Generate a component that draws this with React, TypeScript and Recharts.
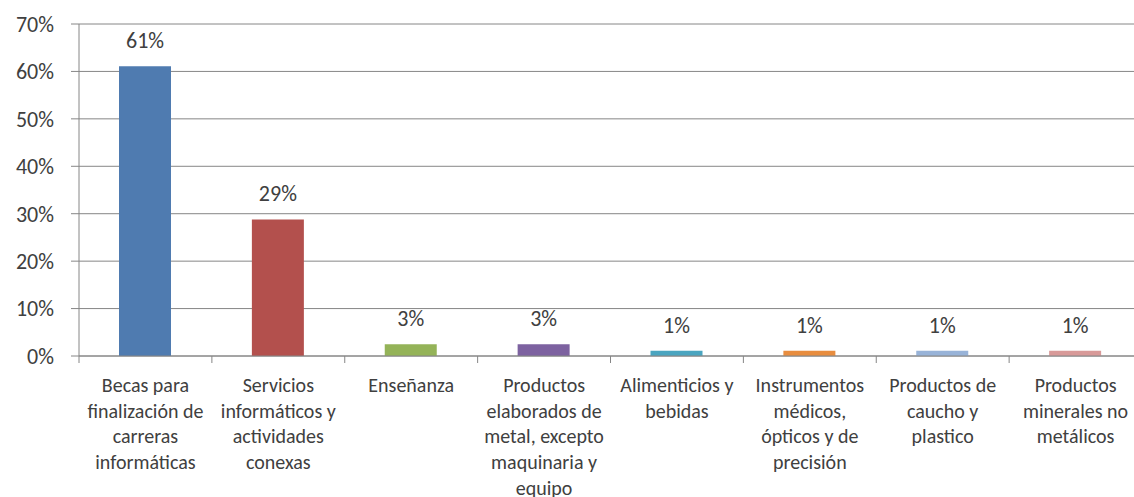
import { BarChart, Bar, XAxis, YAxis, CartesianGrid, Cell, LabelList } from 'recharts';

const categories = [
  'Becas para finalización de carreras informáticas',
  'Servicios informáticos y actividades conexas',
  'Enseñanza',
  'Productos elaborados de metal, excepto maquinaria y equipo',
  'Alimenticios y bebidas',
  'Instrumentos médicos, ópticos y de precisión',
  'Productos de caucho y plastico',
  'Productos minerales no metálicos',
];

const tickLabels = [
  ['Becas para', 'finalización de', 'carreras', 'informáticas'],
  ['Servicios', 'informáticos y', 'actividades', 'conexas'],
  ['Enseñanza'],
  ['Productos', 'elaborados de', 'metal, excepto', 'maquinaria y', 'equipo'],
  ['Alimenticios y', 'bebidas'],
  ['Instrumentos', 'médicos,', 'ópticos y de', 'precisión'],
  ['Productos de', 'caucho y', 'plastico'],
  ['Productos', 'minerales no', 'metálicos'],
];

const shares = [0.611, 0.288, 0.025, 0.025, 0.011, 0.011, 0.011, 0.011];

const yTicks = [0, 0.1, 0.2, 0.3, 0.4, 0.5, 0.6, 0.7];

const COLORS = ['#4F7BB0', '#B3504D', '#94B358', '#7D62A0', '#4AA5C0', '#E88D3F', '#98B3D8', '#D89A99'];

const data = categories.map((name, i) => ({ name, value: shares[i], idx: i }));

const FONT = 'Carlito, Lato, sans-serif';
const CHART_W = 1150;
const LEFT = 79;
const RIGHT = 8;
const BAND = (CHART_W - LEFT - RIGHT) / categories.length;

function CategoryTick(props: any) {
  const { x, y, payload } = props;
  const lines = tickLabels[payload.index] || [];
  const edge = x - BAND / 2;
  return (
    <g>
      <line x1={edge} y1={y} x2={edge} y2={y + 7} stroke="#868686" />
      <text textAnchor="middle" fontFamily={FONT} fontSize={20} fill="#404040">
        {lines.map((l, i) => (
          <tspan key={i} x={x} y={y + 29 + i * 25.7} dominantBaseline="central">
            {l}
          </tspan>
        ))}
      </text>
    </g>
  );
}

export default function App() {
  return (
    <div style={{ position: 'absolute', left: 0, top: 0, width: 1134, height: 497, overflow: 'hidden', background: '#fff' }}>
      <BarChart
        width={CHART_W}
        height={497}
        data={data}
        margin={{ top: 24, right: RIGHT, left: 0, bottom: 0 }}
        barCategoryGap="0%"
      >
        <CartesianGrid vertical={false} stroke="#868686" />
        <XAxis
          dataKey="name"
          height={141}
          interval={0}
          tickSize={0}
          tickMargin={0}
          axisLine={{ stroke: '#868686' }}
          tick={<CategoryTick />}
        />
        <YAxis
          width={LEFT}
          domain={[0, 0.7]}
          ticks={yTicks}
          tickFormatter={(v: number) => `${Math.round(v * 100)}%`}
          tick={{ fontFamily: FONT, fontSize: 22, fill: '#404040' }}
          tickSize={8}
          tickMargin={17}
          tickLine={{ stroke: '#868686' }}
          axisLine={{ stroke: '#868686' }}
        />
        <Bar dataKey="value" barSize={52} isAnimationActive={false}>
          {data.map((_, i) => (
            <Cell key={i} fill={COLORS[i]} />
          ))}
          <LabelList
            dataKey="value"
            position="top"
            offset={18}
            formatter={(v: any) => `${Math.round(Number(v) * 100)}%`}
            style={{ fontFamily: FONT, fontSize: 22, fill: '#404040' }}
          />
        </Bar>
      </BarChart>
    </div>
  );
}
